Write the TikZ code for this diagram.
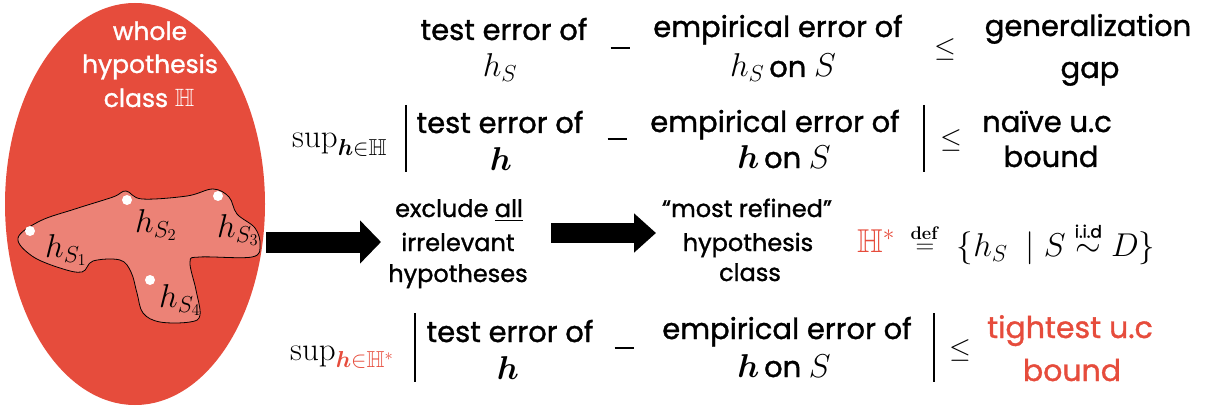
\documentclass[tikz,border=0pt]{standalone}
\usepackage{fix-cm}
\usepackage{amsmath,amssymb}
\usepackage[no-math]{fontspec}
\setmainfont{Poppins}[FakeBold=1.2]
\usetikzlibrary{arrows.meta,shapes.geometric}
\definecolor{ered}{HTML}{E64C3C}
\definecolor{eblob}{HTML}{EC8276}
\newcommand{\mth}[1]{{\fontsize{33}{38}\selectfont$#1$}}
\tikzset{
  ln/.style={anchor=base, inner sep=0pt, font=\fontsize{29}{38}\selectfont},
  midln/.style={anchor=base, inner sep=0pt, font=\fontsize{24}{34}\selectfont},
  redln/.style={anchor=base, inner sep=0pt, text=ered, font=\fontsize{30}{38}\selectfont},
  titleln/.style={anchor=base, inner sep=0pt, text=white, font=\fontsize{25}{32}\selectfont},
  rel/.style={inner sep=0pt, font=\fontsize{28}{30}\selectfont},
  hlab/.style={inner sep=0pt, font=\fontsize{33}{36}\selectfont},
  bar/.style={line width=2pt},
  dot/.style={circle, fill=white, inner sep=0pt, minimum size=10pt},
}
\newcommand{\minusbar}{\rule{19pt}{2.6pt}}
\begin{document}
\begin{tikzpicture}[x=1pt,y=-1pt]
\useasboundingbox (0,0) rectangle (1209,406);
% whole class
\node[ellipse, fill=ered, minimum width=260pt, minimum height=402pt, inner sep=0pt] (ell) at (135,204) {};
\node[titleln] (ti1) at (150,40) {whole};
\node[titleln] (ti2) at (150,73) {hypothesis};
\node[titleln] (ti3) at (149,107) {class $\mathbb{H}$};
% blob
\draw[fill=eblob, draw=black, line width=0.8pt] plot[smooth cycle, tension=0.6] coordinates {
 (18,238) (40,221) (75,209) (113,197) (126,191) (142,199) (187,196) (213,189) (229,197)
 (237,214) (255,228) (260,245) (252,257) (200,257) (190,262) (196,290) (200,315) (190,322)
 (160,322) (143,313) (137,293) (131,272) (120,260) (93,261) (82,272) (60,268) (32,256)};
\node[dot] (d1) at (30,231) {};
\node[dot] (d2) at (127,200) {};
\node[dot] (d3) at (218,196) {};
\node[dot] (d4) at (150,280) {};
\node[hlab] (hs1) at (66,250) {$h_{S_1}$};
\node[hlab] (hs2) at (156,225) {$h_{S_2}$};
\node[hlab] (hs3) at (238,230) {$h_{S_3}$};
\node[hlab] (hs4) at (180,300) {$h_{S_4}$};
% row 1
\node[ln] (t1a) at (504,40) {test error of};
\node[ln] (t1b) at (500,77) {\mth{h_S}};
\node[inner sep=0pt] (m1) at (620,48) {\minusbar};
\node[ln] (e1a) at (778,37) {empirical error of};
\node[ln] (e1b) at (783,77) {\mth{h_S}\,on \mth{S}};
\node[rel] (le1) at (945,50) {$\leq$};
\node[ln] (g1a) at (1088,36) {generalization};
\node[ln] (g1b) at (1090,78) {gap};
% row 2
\node[anchor=base west, inner sep=0pt] (sup2) at (292,148) {\mth{\sup\nolimits_{\boldsymbol{h}\in\mathbb{H}}}};
\coordinate (b2at) at (406,105); \coordinate (b2ab) at (406,172);
\coordinate (b2bt) at (924,105); \coordinate (b2bb) at (924,172);
\draw[bar] (b2at) -- (b2ab);
\draw[bar] (b2bt) -- (b2bb);
\node[ln] (t2a) at (500,133) {test error of};
\node[ln] (t2b) at (501,171) {\mth{\boldsymbol{h}}};
\node[inner sep=0pt] (m2) at (617,139) {\minusbar};
\node[ln] (e2a) at (775,132) {empirical error of};
\node[ln] (e2b) at (784,168) {\mth{\boldsymbol{h}}\,on \mth{S}};
\node[rel] (le2) at (951,141) {$\leq$};
\node[ln] (n2a) at (1047,132) {naïve u.c};
\node[ln] (n2b) at (1051,167) {bound};
% middle
\node[midln] (ex1) at (459,217) {exclude \underline{all}};
\node[midln] (ex2) at (458,251) {irrelevant};
\node[midln] (ex3) at (458,282) {hypotheses};
\node[midln] (rf1) at (747,217) {“most refined”};
\node[midln] (rf2) at (748,251) {hypothesis};
\node[midln] (rf3) at (750,281) {class};
\coordinate (a1s) at (266,242);
\coordinate (a1e) at (381,242);
\coordinate (a2s) at (551,233);
\coordinate (a2e) at (656,233);
\draw[line width=21pt, -{Triangle[length=21pt,width=42pt]}] (a1s) -- (a1e);
\draw[line width=20pt, -{Triangle[length=22pt,width=38pt]}] (a2s) -- (a2e);
\node[inner sep=0pt, text=ered] (hstar) at (876,241) {\mth{\mathbb{H}^*}};
\node[inner sep=0pt, font=\fontsize{26}{30}\selectfont] (defeq) at (925,239) {$\overset{\mathbf{def}}{=}$};
\node[inner sep=0pt] (setd) at (1056,243) {\mth{\{h_S\ \mid S\overset{\text{\fontsize{17}{17}\selectfont i.i.d}}{\sim}D\}}};
% row 3
\node[anchor=base west, inner sep=0pt] (sup3) at (290,360) {\mth{\sup\nolimits_{\color{ered}\boldsymbol{h}\in\mathbb{H}^*}}};
\coordinate (b3at) at (415,313); \coordinate (b3ab) at (415,382);
\coordinate (b3bt) at (934,313); \coordinate (b3bb) at (934,382);
\draw[bar] (b3at) -- (b3ab);
\draw[bar] (b3bt) -- (b3bb);
\node[ln] (t3a) at (510,342) {test error of};
\node[ln] (t3b) at (508,379) {\mth{\boldsymbol{h}}};
\node[inner sep=0pt] (m3) at (624,348) {\minusbar};
\node[ln] (e3a) at (787,339) {empirical error of};
\node[ln] (e3b) at (784,377) {\mth{\boldsymbol{h}}\,on \mth{S}};
\node[rel] (le3) at (960,350) {$\leq$};
\node[redln] (tb1) at (1070,338) {tightest u.c};
\node[redln] (tb2) at (1072,381) {bound};
\end{tikzpicture}
\end{document}
